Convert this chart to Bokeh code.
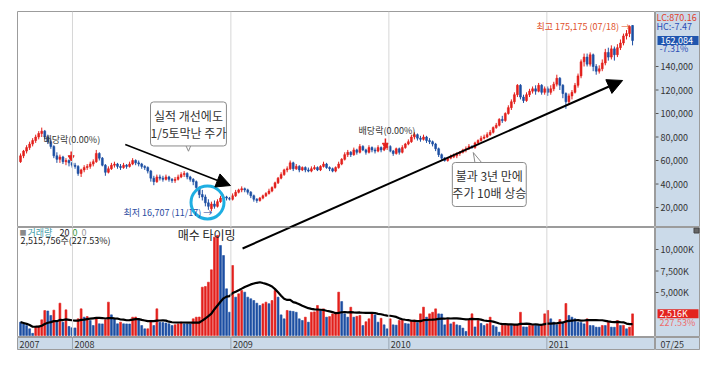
import pandas as pd
from bokeh.plotting import figure
from bokeh.models import Range1d, Span, Label, ColumnDataSource, Spacer, Arrow, NormalHead
from bokeh.layouts import column, row
from bokeh.embed import file_html
from bokeh.resources import INLINE
from bokeh.core.properties import value

# ---------------- data (weekly, prices in thousand KRW, volume in K shares) ----------------
first_week = "2007-09-03"

opens = [59, 64, 68, 71, 74, 77, 80, 83, 85, 80,
         76, 72, 64, 61, 63, 59, 60, 58, 56, 55,
         49, 52, 54, 55, 57, 59, 66, 62, 56, 50,
         53, 56, 57, 55, 54, 56, 55, 57, 60, 58,
         57, 55, 54, 51, 45, 42, 46, 45, 44, 46,
         44, 43, 44, 46, 48, 49, 46, 44, 42, 37,
         31, 29, 24, 19, 23, 21, 25, 28, 29, 28,
         27, 30, 33, 35, 36, 35, 33, 30, 27, 26,
         28, 30, 32, 34, 37, 41, 45, 48, 52, 53,
         58, 53, 55, 52, 54, 52, 51, 53, 54, 52,
         55, 57, 54, 53, 51, 54, 57, 61, 65, 67,
         65, 69, 67, 72, 69, 67, 71, 69, 68, 71,
         69, 71, 72, 68, 66, 70, 67, 71, 74, 76,
         80, 82, 79, 78, 80, 77, 76, 74, 70, 65,
         62, 60, 62, 63, 64, 66, 67, 69, 70, 72,
         71, 75, 77, 79, 80, 82, 84, 88, 90, 95,
         94, 100, 105, 110, 116, 124, 114, 111, 116, 119,
         121, 119, 124, 118, 121, 118, 121, 125, 130, 124,
         117, 110, 115, 118, 124, 132, 144, 148, 142, 150,
         140, 136, 138, 143, 152, 148, 155, 150, 156, 160,
         166, 168, 174.9]

highs = [66, 69, 73, 76, 79, 82, 85, 88, 86, 82,
         78, 73, 67, 65, 64, 62, 61, 59, 58, 56,
         53, 56, 57, 59, 61, 69, 67, 63, 57, 55,
         58, 59, 58, 57, 58, 57, 59, 62, 61, 60,
         58, 56, 55, 52, 47, 48, 48, 47, 48, 47,
         45, 46, 48, 50, 51, 50, 47, 45, 43, 38,
         35, 31, 27, 25, 26, 27, 30, 31, 30, 29,
         32, 35, 36, 38, 37, 36, 34, 31, 28, 29,
         31, 33, 36, 38, 42, 46, 50, 53, 55, 60,
         59, 57, 56, 55, 55, 54, 55, 56, 55, 56,
         59, 58, 55, 54, 55, 59, 62, 67, 69, 68,
         71, 70, 74, 73, 70, 73, 72, 71, 73, 72,
         73, 75, 73, 69, 71, 71, 73, 75, 78, 82,
         84, 83, 81, 82, 81, 79, 77, 75, 71, 66,
         63, 63, 65, 66, 67, 68, 70, 72, 74, 73,
         76, 78, 81, 82, 84, 86, 89, 92, 96, 98,
         101, 107, 112, 118, 125, 125, 116, 118, 121, 123,
         124, 126, 125, 123, 123, 124, 127, 133, 131, 125,
         118, 117, 120, 126, 134, 146, 151, 151, 152, 151,
         142, 141, 146, 155, 156, 158, 157, 159, 163, 168,
         171, 175, 175.175]

lows = [58, 62, 66, 69, 72, 75, 78, 80, 78, 74,
        70, 62, 58, 58, 57, 56, 55, 54, 53, 47,
        46, 50, 52, 53, 55, 58, 60, 55, 47, 49,
        52, 54, 53, 52, 53, 53, 54, 56, 56, 55,
        53, 52, 49, 42, 39, 41, 43, 42, 43, 42,
        41, 41, 43, 45, 46, 44, 42, 39, 35, 28,
        26, 21, 18, 16.707, 19, 20, 24, 26, 26, 26,
        26, 29, 32, 33, 33, 31, 28, 25, 24, 25,
        27, 29, 31, 33, 36, 40, 44, 47, 50, 52,
        51, 52, 50, 51, 50, 50, 50, 52, 51, 51,
        54, 53, 51, 50, 50, 53, 56, 60, 63, 63,
        64, 65, 66, 68, 65, 66, 67, 66, 67, 67,
        68, 69, 67, 64, 65, 65, 66, 70, 73, 75,
        78, 77, 76, 77, 75, 74, 72, 68, 63, 60,
        59, 59, 61, 62, 62, 64, 66, 67, 69, 70,
        70, 73, 76, 78, 79, 81, 83, 87, 89, 92,
        93, 99, 103, 108, 114, 112, 109, 110, 114, 117,
        116, 118, 116, 116, 115, 116, 119, 123, 120, 113,
        104, 108, 112, 117, 122, 130, 140, 140, 140, 136,
        133, 134, 136, 141, 145, 146, 145, 148, 154, 158,
        163, 165, 158]

closes = [64, 68, 71, 74, 77, 80, 83, 85, 80, 76,
          72, 64, 61, 63, 59, 60, 58, 56, 55, 49,
          52, 54, 55, 57, 59, 66, 62, 56, 50, 53,
          56, 57, 55, 54, 56, 55, 57, 60, 58, 57,
          55, 54, 51, 45, 42, 46, 45, 44, 46, 44,
          43, 44, 46, 48, 49, 46, 44, 42, 37, 31,
          29, 24, 21, 23, 21, 25, 28, 29, 28, 27,
          30, 33, 35, 36, 35, 33, 30, 27, 26, 28,
          30, 32, 34, 37, 41, 45, 48, 52, 53, 58,
          53, 55, 52, 54, 52, 51, 53, 54, 52, 55,
          57, 54, 53, 51, 54, 57, 61, 65, 67, 65,
          69, 67, 72, 69, 67, 71, 69, 68, 71, 69,
          71, 72, 68, 66, 70, 67, 71, 74, 76, 80,
          82, 79, 78, 80, 77, 76, 74, 70, 65, 62,
          60, 62, 63, 64, 66, 67, 69, 70, 72, 71,
          75, 77, 79, 80, 82, 84, 88, 90, 95, 94,
          100, 105, 110, 116, 124, 114, 111, 116, 119, 121,
          119, 124, 118, 121, 118, 121, 125, 130, 124, 117,
          110, 115, 118, 124, 132, 144, 148, 142, 150, 140,
          136, 138, 143, 152, 148, 155, 150, 156, 160, 166,
          168, 174, 162.084]

volumes = [1550, 1360, 1160, 780, 250, 1050, 1100, 1820, 2900, 2850,
           2330, 2950, 1550, 3760, 1550, 2980, 1050, 900, 880, 1940,
           3100, 2130, 2200, 1750, 1160, 1940, 1360, 1350, 1820, 3880,
           2400, 1940, 1360, 1550, 1360, 1350, 1340, 2130, 2150, 1940,
           1160, 775, 780, 1750, 1160, 3100, 1550, 1500, 1450, 1360,
           1160, 1250, 1360, 1550, 1360, 1340, 1330, 1940, 2130, 2150,
           5620, 5700, 6200, 7640, 11440, 11630, 10470, 9300, 5430, 2710,
           8140, 4460, 4850, 5230, 5040, 4460, 4270, 4070, 3760, 3490,
           3680, 3880, 3700, 4070, 5230, 4460, 2400, 1940, 2910, 2850,
           2800, 2700, 1940, 1745, 2130, 1550, 2700, 2750, 3490, 2910,
           3100, 2130, 2200, 2520, 2710, 5040, 3950, 2520, 2130, 3290,
           2130, 2230, 2330, 1160, 1600, 1940, 2520, 2400, 1550, 2000,
           1240, 775, 1940, 1240, 1200, 1745, 1800, 1400, 1350, 1745,
           1800, 1500, 2520, 3295, 2130, 2520, 2700, 3100, 2520, 2500,
           1240, 1860, 1350, 1550, 1240, 1163, 860, 470, 1860, 2520,
           1000, 1740, 1400, 1163, 1350, 2130, 1163, 1000, 388, 1163,
           1180, 1200, 1163, 1240, 1260, 2700, 1000, 980, 1163, 1180,
           1163, 1150, 1200, 2520, 2910, 1940, 1550, 1240, 1860, 1550,
           3720, 2330, 2130, 1940, 1550, 1500, 1350, 1940, 1163, 1150,
           970, 960, 1163, 1160, 1550, 970, 960, 1740, 1163, 1180,
           780, 970, 2516]

price_ticks = [20, 40, 60, 80, 100, 120, 140]
price_tick_labels = ["20,000", "40,000", "60,000", "80,000", "100,000", "120,000", "140,000"]
vol_ticks = [5000, 7500, 10000]
vol_tick_labels = ["5,000K", "7,500K", "10,000K"]
year_labels = ["2007", "2008", "2009", "2010", "2011"]
year_starts = ["2007-08-27", "2008-01-01", "2009-01-01", "2010-01-01", "2011-01-01"]

# ---------------- styling ----------------
FONT = "Noto Sans CJK KR"
PANEL = "#cbdae9"
RED = "#e3201c"
BLUE = "#1d4fa3"
OUT = "#9c9c9c"
GRID = "#d6d6d6"
BOXLINE = "#8a8a8a"


def ms(s):
    return pd.Timestamp(s).value / 1e6


dates = pd.date_range(first_week, periods=len(closes), freq="7D")
body_top = [max(o, c) for o, c in zip(opens, closes)]
body_bot = [min(o, c) for o, c in zip(opens, closes)]
candle_color = [RED if c >= o else BLUE for o, c in zip(opens, closes)]
vol_color = [BLUE] + [RED if volumes[i] > volumes[i - 1] else BLUE for i in range(1, len(volumes))]
ma20 = pd.Series(volumes).rolling(20, min_periods=1).mean().tolist()

src = ColumnDataSource(dict(date=dates, high=highs, low=lows, top=body_top, bot=body_bot,
                            color=candle_color, vol=volumes, vcolor=vol_color, ma=ma20))

X_END = "2011-09-09"
xr = Range1d(ms(year_starts[0]), ms(X_END))
WEEK_MS = 7 * 24 * 3600 * 1000
BAR_W = 0.62 * WEEK_MS
W = 638
SIDE_W = 45

common = dict(width=W, x_range=xr, x_axis_type="datetime", x_axis_location=None, y_axis_location=None,
              output_backend="svg", toolbar_location=None,
              min_border_left=0, min_border_right=0, min_border_top=0, min_border_bottom=0,
              border_fill_color="white", background_fill_color="white", outline_line_color=OUT)

yr_price = Range1d(3, 186.8)
yr_vol = Range1d(-233, 12560)
yr_strip = Range1d(0, 1)

p1 = figure(height=216, y_range=yr_price, **common)
p2 = figure(height=110, y_range=yr_vol, **common)
p3 = figure(height=13, y_range=yr_strip, **{**common, "background_fill_color": PANEL,
                                             "border_fill_color": PANEL})


def side(height, y_range):
    return figure(width=SIDE_W, height=height, x_range=Range1d(0, SIDE_W), y_range=y_range,
                  x_axis_location=None, y_axis_location=None, output_backend="svg",
                  toolbar_location=None, min_border_left=0, min_border_right=0,
                  min_border_top=0, min_border_bottom=0, background_fill_color=PANEL,
                  border_fill_color=PANEL, outline_line_color=OUT)


r1 = side(216, yr_price)
r2 = side(110, yr_vol)
r3 = side(13, yr_strip)

for p in (p1, p2, p3, r1, r2, r3):
    p.xgrid.visible = False
    p.ygrid.visible = False

for p in (p1, p2, p3):
    for d in year_starts[1:]:
        p.add_layout(Span(location=ms(d), dimension="height",
                          line_color=(GRID if p is not p3 else "#9aa6b2"), line_width=1))


def lab(p, x, y, text, size="9px", color="#333333", align="left", **kw):
    p.add_layout(Label(x=x, y=y, text=text, text_font=FONT, text_font_size=size, text_color=color,
                       text_align=align, text_baseline="middle", **kw))


def callout(p, x, y, text):
    kw = dict(x=x, y=y, text=text, text_font=FONT, text_font_size="12px", text_color="#333333",
              text_align="center", text_baseline="middle", text_line_height=1.0,
              background_fill_color="white", border_line_color=BOXLINE, border_line_width=1,
              border_radius=3)
    try:
        lbl = Label(padding=dict(left=0, right=0, top=5, bottom=5), **kw)
    except Exception:
        lbl = Label(padding=4, **kw)
    p.add_layout(lbl)


def ticks(r, tvals, tlabels):
    n = len(tvals)
    r.segment(x0=[0] * n, x1=[3] * n, y0=tvals, y1=tvals, line_color="#555555", line_width=1)
    r.text(x=[5] * n, y=tvals, text=tlabels, text_font=value(FONT), text_font_size="9px",
           text_color="#333333", text_baseline="middle", text_align="left")


# ---------------- price panel ----------------
p1.segment(x0="date", y0="low", x1="date", y1="high", line_color="color", line_width=1, source=src)
p1.vbar(x="date", width=BAR_W, top="top", bottom="bot", fill_color="color", line_color="color",
        line_width=0.6, source=src)

# dividend markers
lab(p1, ms("2007-10-26"), 77.9, "배당락(0.00%)")
lab(p1, ms("2009-10-23"), 85.5, "배당락(0.00%)")
div_x = [ms("2007-12-29"), ms("2009-12-24")]
p1.segment(x0=div_x, y0=[67.7, 78.7], x1=div_x, y1=[63.8, 74.4], line_color=RED, line_width=1.5)
p1.scatter(x=div_x, y=[62.6, 73.2], marker="inverted_triangle", size=6, fill_color=RED, line_color=RED)

# callout 1 (tail glyph first, label box drawn over it)
p1.patch(x=[ms("2008-09-15"), ms("2008-10-04"), ms("2008-09-25")], y=[76, 76, 67.9],
         fill_color="white", line_color=BOXLINE, line_width=1)
callout(p1, ms("2008-09-25"), 91.1, "실적 개선에도\n1/5토막난 주가")
p1.add_layout(Arrow(end=NormalHead(size=14, fill_color="black", line_color="black"),
                    x_start=ms("2008-05-02"), y_start=73.6, x_end=ms("2008-12-31"), y_end=38.7,
                    line_color="black", line_width=1.6))

# low marker
p1.scatter(x=[ms("2008-11-08")], y=[24.3], marker="circle", size=33, fill_alpha=0,
           line_color="#1eaee2", line_width=3)
lab(p1, ms("2008-04-28"), 15.7, "최저 16,707 (11/17) →", color="#2a4aa0")

# long arrow
p1.add_layout(Arrow(end=NormalHead(size=15, fill_color="black", line_color="black"),
                    x_start=ms("2009-05-17"), y_start=3.0, x_end=ms("2011-06-25"), y_end=128.1,
                    line_color="black", line_width=2))

# callout 2
p1.patch(x=[ms("2010-07-21"), ms("2010-08-14"), ms("2010-07-15")], y=[53.5, 53.5, 66.8],
         fill_color="white", line_color=BOXLINE, line_width=1)
callout(p1, ms("2010-08-21"), 39.6, "불과 3년 만에\n주가 10배 상승")

lab(p1, ms("2010-12-08"), 174.0, "최고 175,175 (07/18) →", color="#e0502a")

# right panel (price)
ticks(r1, price_ticks, price_tick_labels)
lab(r1, 1, 181.7, "LC:870.16", color="#e2402a")
lab(r1, 1, 174.0, "HC:-7.47", color="#2b4db5")
r1.rect(x=[22.5], y=[162.084], width=41, height=9, height_units="screen",
        fill_color="#1f55ae", line_color=None)
lab(r1, 5, 162.084, "162,084", color="white")
lab(r1, 4, 155.3, "-7.31%", color="#2b4db5")

# ---------------- volume panel ----------------
p2.vbar(x="date", width=BAR_W, top="vol", bottom=0, fill_color="vcolor", line_color="vcolor",
        line_width=0.6, source=src)
p2.line(x="date", y="ma", line_color="black", line_width=2.2, source=src)
p2.segment(x0=[ms("2009-01-28")], y0=[10118], x1=[ms("2009-07-19")], y1=[13956],
           line_color="black", line_width=2)

lab(p2, ms("2008-08-31"), 11800, "매수 타이밍", size="12px", color="#222222")
base = ms(first_week)
lab(p2, base, 12000, "■", size="7px", color="#8a8a8a", x_offset=-1)
lab(p2, base, 12000, "거래량", color="#3e9aa6", x_offset=7)
lab(p2, base, 12000, "20", color="#222222", x_offset=39)
lab(p2, base, 12000, "0", color="#3a9a3a", x_offset=52)
lab(p2, base, 12000, "0", color="#999999", x_offset=61)
lab(p2, base, 11100, "2,515,756주(227.53%)", color="#222222")

# right panel (volume)
ticks(r2, vol_ticks, vol_tick_labels)
r2.rect(x=[22.5], y=[2516], width=41, height=9, height_units="screen",
        fill_color="#e3241e", line_color=None)
lab(r2, 4, 2516, "2,516K", color="white")
lab(r2, 4, 1512, "227.53%", color="#ee6a6a")
r2.scatter(x=[41], y=[12211], marker="square", size=5, fill_color="#666666", line_color="#444444")

# ---------------- date strip ----------------
p3.text(x=[ms(d) for d in year_starts], y=[0.5] * len(year_labels), text=year_labels,
        text_font=value(FONT), text_font_size="9px", text_color="#333333",
        text_baseline="middle", text_align="left", x_offset=2)
lab(r3, 5, 0.5, "07/25", color="#333333")

layout = row(Spacer(width=17),
             column(Spacer(height=11), row(p1, r1), row(p2, r2), row(p3, r3)))

open("out.html", "w").write(file_html(layout, INLINE, title="chart"))
